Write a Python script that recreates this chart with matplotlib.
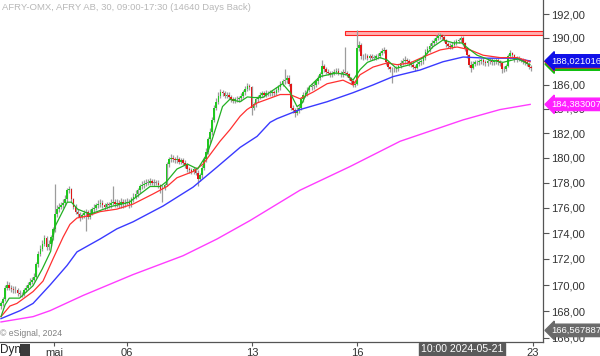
import matplotlib
matplotlib.use("Agg")
import matplotlib.pyplot as plt
import matplotlib.transforms as mtransforms
from matplotlib.patches import Rectangle
from matplotlib.ticker import FixedLocator, FixedFormatter, NullLocator
import numpy as np

plt.rcParams['font.family'] = ['Liberation Sans', 'DejaVu Sans']

# 30 minute bars, AFRY, late April -> 22 May 2024
first_open = 168.4
closes = [
    168.6, 168.9, 169.8, 170.0, 169.8, 169.7, 169.6, 169.6, 169.4, 169.3,
    169.35, 169.6, 169.8, 170.0, 170.25, 170.4, 170.6, 171.6, 172.4, 172.8,
    173.2, 173.6, 172.9, 173.2, 173.7, 174.3, 175.5, 175.9, 176.1, 176.2,
    176.4, 176.7, 177.4, 177.5, 176.7, 176.1, 175.7, 175.5, 175.3, 175.4,
    175.6, 175.65, 175.3, 175.6, 175.9, 176.0, 176.2, 176.3, 176.4, 176.2,
    176.1, 176.3, 176.2, 176.4, 176.5, 176.3, 176.4, 176.2, 176.5, 176.3,
    176.4, 176.5, 176.3, 176.7, 176.9, 177.1, 177.4, 177.7, 177.8, 177.9,
    178.0, 178.0, 178.1, 178.0, 178.0, 178.0, 177.8, 177.5, 177.6, 177.8,
    179.5, 179.9, 180.0, 179.9, 179.8, 179.9, 179.7, 179.8, 179.6, 179.4,
    179.1, 179.0, 178.9, 179.1, 178.8, 178.3, 178.6, 179.2, 179.9, 180.5,
    181.5, 182.1, 183.1, 184.1, 184.6, 185.1, 185.4, 185.3, 185.1, 185.2,
    185.0, 184.85, 184.7, 184.8, 184.85, 184.9, 185.1, 185.4, 185.7, 185.9,
    185.8, 184.1, 184.4, 184.8, 185.0, 185.2, 185.3, 185.2, 185.35, 185.3,
    185.35, 185.4, 185.35, 185.6, 185.8, 186.1, 186.3, 186.4, 186.6, 186.1,
    184.1, 183.95, 183.7, 183.95, 184.1, 184.8, 185.2, 185.35, 185.6, 185.8,
    185.9, 186.0, 186.3, 186.6, 186.9, 187.6, 187.3, 187.1, 187.0, 186.9,
    187.0, 187.1, 187.2, 187.0, 186.9, 187.1, 187.0, 186.9, 186.6, 186.3,
    186.0, 186.1, 189.1, 189.4, 188.4, 188.4, 188.45, 188.3, 188.4, 188.3,
    188.3, 188.4, 188.45, 188.7, 188.9, 188.95, 187.9, 187.5, 187.3, 187.3,
    187.3, 187.4, 187.6, 187.85, 188.0, 188.1, 188.0, 187.85, 187.7, 187.5,
    187.45, 187.8, 187.9, 188.0, 188.3, 188.8, 189.0, 189.3, 189.55, 189.7,
    190.0, 190.1, 190.2, 190.05, 189.8, 189.45, 189.3, 189.2, 189.4, 189.55,
    189.7, 189.8, 190.0, 189.5, 189.1, 188.5, 187.7, 187.45, 187.8, 187.9,
    187.9, 188.0, 188.1, 187.9, 187.85, 188.0, 188.1, 187.9, 188.0, 188.1,
    187.9, 187.85, 187.3, 187.35, 187.6, 188.4, 188.7, 188.5, 188.1, 188.2,
    188.2, 188.1, 188.0, 187.9, 187.8, 187.5, 187.45]
highs = [
    168.8, 169.1, 170.0, 170.3, 170.2, 170.0, 169.9, 169.9, 169.8, 169.6,
    169.5, 169.8, 170.0, 170.2, 170.5, 170.6, 170.9, 171.8, 172.6, 173.1,
    173.5, 173.9, 173.8, 173.5, 173.9, 174.5, 177.9, 176.2, 176.4, 176.5,
    176.7, 177.0, 177.6, 177.7, 177.6, 176.8, 176.3, 175.9, 175.7, 175.6,
    175.8, 175.9, 175.8, 175.9, 176.1, 176.3, 176.4, 176.6, 176.7, 176.6,
    176.4, 176.5, 176.5, 176.7, 177.7, 176.7, 176.7, 176.6, 176.8, 176.7,
    176.7, 176.8, 176.7, 176.9, 177.2, 177.4, 177.6, 177.9, 178.1, 178.2,
    178.3, 178.3, 178.4, 178.3, 178.3, 178.2, 178.2, 177.9, 177.8, 178.0,
    179.7, 180.1, 180.3, 180.2, 180.1, 180.2, 180.1, 180.0, 180.0, 179.8,
    179.6, 179.3, 179.2, 179.3, 179.3, 179.0, 178.8, 179.4, 180.1, 180.8,
    181.7, 182.4, 183.3, 184.3, 184.9, 185.4, 185.7, 185.6, 185.5, 185.4,
    185.4, 185.2, 185.0, 185.0, 185.1, 185.1, 185.3, 185.6, 185.9, 186.2,
    186.1, 185.9, 184.6, 185.0, 185.2, 185.4, 185.5, 185.5, 185.6, 185.5,
    185.6, 185.6, 185.6, 185.8, 186.0, 186.3, 186.5, 187.3, 186.8, 186.8,
    186.2, 184.3, 184.1, 184.2, 184.3, 185.0, 185.4, 185.6, 185.8, 186.0,
    186.2, 186.3, 186.5, 186.8, 187.1, 188.1, 187.8, 187.5, 187.3, 187.2,
    187.2, 187.3, 187.4, 187.4, 187.2, 187.3, 189.2, 187.2, 187.0, 186.7,
    186.4, 186.3, 190.65, 189.7, 189.5, 188.6, 188.7, 188.6, 188.6, 188.6,
    188.5, 188.6, 188.7, 188.9, 189.1, 189.2, 189.0, 188.0, 187.6, 187.5,
    187.5, 187.6, 187.8, 188.1, 188.3, 188.4, 188.3, 188.2, 188.0, 187.9,
    187.7, 188.0, 188.1, 188.2, 188.5, 189.0, 189.3, 189.5, 189.8, 190.0,
    190.2, 190.4, 190.4, 190.3, 190.2, 189.9, 189.6, 189.5, 189.6, 189.8,
    189.9, 190.0, 190.15, 190.1, 189.6, 189.2, 188.6, 188.0, 188.0, 188.1,
    188.1, 188.2, 188.3, 188.3, 188.1, 188.2, 188.3, 188.3, 188.2, 188.3,
    188.3, 188.1, 187.9, 187.6, 187.8, 188.6, 188.95, 188.8, 188.6, 188.4,
    188.4, 188.3, 188.3, 188.2, 188.1, 187.9, 187.7]
lows = [
    168.2, 168.4, 168.8, 169.6, 169.6, 169.5, 169.4, 169.4, 169.2, 169.1,
    169.1, 169.2, 169.5, 169.7, 169.9, 170.1, 170.3, 170.5, 171.4, 172.2,
    172.6, 173.0, 172.7, 172.7, 173.0, 173.5, 174.1, 175.3, 175.7, 175.9,
    176.0, 176.2, 176.5, 177.2, 176.5, 175.9, 175.5, 175.3, 175.0, 175.1,
    175.2, 174.2, 175.1, 175.1, 175.4, 175.7, 175.8, 176.0, 176.1, 176.0,
    175.8, 175.9, 176.0, 176.0, 176.2, 176.1, 176.1, 176.0, 176.0, 176.0,
    176.1, 176.2, 176.0, 176.1, 176.5, 176.7, 176.9, 177.2, 177.5, 177.6,
    177.7, 177.8, 177.8, 177.8, 177.7, 177.8, 177.6, 177.2, 176.5, 177.4,
    177.7, 179.3, 179.7, 179.7, 179.6, 179.6, 179.5, 179.5, 179.4, 179.2,
    178.9, 178.8, 178.7, 178.7, 178.6, 177.7, 178.1, 178.4, 179.0, 179.7,
    180.3, 181.2, 181.9, 182.9, 183.9, 184.4, 184.9, 185.1, 184.9, 184.9,
    184.8, 184.6, 184.5, 184.5, 184.6, 184.6, 184.7, 184.9, 185.2, 185.5,
    185.6, 183.5, 183.9, 184.2, 184.6, 184.8, 185.0, 185.0, 185.0, 185.1,
    185.1, 185.1, 185.1, 185.2, 185.4, 185.6, 185.9, 186.1, 186.2, 185.9,
    183.9, 183.7, 183.3, 183.5, 183.7, 183.9, 184.6, 185.0, 185.1, 185.4,
    185.6, 185.7, 185.8, 186.1, 186.4, 186.7, 187.1, 186.9, 186.8, 186.7,
    186.7, 186.8, 186.9, 186.8, 186.7, 186.7, 186.8, 186.7, 186.4, 186.1,
    185.8, 185.8, 186.0, 188.9, 188.2, 188.1, 188.2, 188.1, 188.1, 188.1,
    188.1, 188.1, 188.2, 188.3, 188.5, 188.7, 187.7, 187.3, 187.1, 186.2,
    187.1, 187.1, 187.2, 187.4, 187.7, 187.8, 187.8, 187.6, 187.5, 187.3,
    187.2, 187.3, 187.6, 187.7, 187.8, 188.1, 188.6, 188.8, 189.1, 189.4,
    189.5, 189.8, 189.9, 189.8, 189.6, 189.2, 189.1, 189.0, 189.0, 189.2,
    189.4, 189.5, 189.6, 189.3, 188.9, 188.3, 187.5, 187.1, 187.3, 187.6,
    187.7, 187.7, 187.8, 187.7, 187.6, 187.6, 187.8, 187.7, 187.7, 187.8,
    187.7, 187.6, 187.0, 187.1, 187.2, 187.5, 188.2, 188.3, 187.9, 187.9,
    188.0, 187.9, 187.8, 187.7, 187.6, 187.3, 187.2]

# moving averages (bar position, value)
fast_x = [0, 2, 4, 9, 15.5, 20, 24, 26, 32, 34, 37, 43, 53, 62, 72, 77, 80, 85,
          90, 95, 99.5, 102, 105, 107, 110.5, 115.5, 119, 122, 126.5, 130, 136,
          139.5, 143, 145.5, 149, 154, 162, 167, 170, 173.5, 177, 183, 186.5,
          191, 197.5, 204, 208.5, 213.5, 218.5, 222.5, 225.5, 230, 236, 242.5,
          249.5, 255.5]
fast_y = [167.6, 168.5, 169.0, 169.0, 169.95, 171.25, 172.6, 174.5, 176.45,
          176.45, 175.9, 175.5, 176.1, 176.45, 177.7, 177.7, 178.1, 179.1, 179.5,
          179.1, 180.3, 181.5, 183.1, 184.2, 184.8, 184.6, 185.0, 184.95, 184.95,
          185.4, 186.1, 185.4, 184.2, 184.5, 185.85, 186.7, 187.0, 186.85, 186.4,
          187.3, 187.9, 188.3, 188.1, 187.4, 187.7, 188.3, 189.2, 189.8, 189.55,
          189.55, 189.1, 188.5, 188.1, 187.9, 188.2, 187.7]
mid_x = [0, 4.3, 7.7, 15.5, 20.3, 25.1, 30, 33.3, 36.7, 41.5, 47.8, 56, 63.8,
         73.4, 80.2, 85, 92.8, 97.6, 105.8, 110.6, 115.5, 118.8, 123.7, 128.5,
         134.8, 139.6, 144.4, 150.7, 157.5, 165.2, 170, 173.4, 179.7, 186.5,
         191.3, 197.6, 203.9, 212.1, 220.3, 226.6, 232.9, 241.1, 249.3, 255.6]
mid_y = [167.6, 168.4, 168.6, 169.5, 170.3, 172.0, 173.7, 174.7, 175.2, 175.35,
         175.7, 175.9, 176.3, 177.1, 177.7, 178.4, 178.9, 179.5, 181.35, 182.3,
         183.4, 183.95, 184.5, 184.8, 185.2, 185.2, 184.85, 185.4, 186.1, 186.4,
         186.0, 186.85, 187.5, 187.85, 187.7, 187.85, 188.35, 188.95, 189.2,
         188.95, 188.5, 188.3, 188.3, 187.95]
slow_x = [0, 9.2, 15.5, 23.7, 31.9, 36.7, 47.8, 56, 63.8, 78.3, 92.8, 104.3,
          115.5, 123.7, 130, 133.3, 144.4, 157.5, 170, 179.7, 189.4, 202.4,
          213.5, 223.2, 234.8, 247.3, 255.6]
slow_y = [167.45, 168.05, 168.6, 170.0, 171.5, 172.55, 173.55, 174.35, 174.9,
          176.15, 177.65, 179.25, 180.85, 181.75, 182.9, 183.2, 183.95, 184.6,
          185.35, 186.0, 186.7, 187.25, 187.95, 188.35, 188.25, 188.25, 188.02]
long_x = [0, 15.5, 23.7, 39.6, 63.8, 87.9, 104.3, 120.3, 144.4, 168.6, 192.8,
          223.2, 241, 255.6]
long_y = [167.2, 167.6, 168.05, 169.2, 170.8, 172.25, 173.55, 175.0, 177.4,
          179.3, 181.35, 183.1, 183.95, 184.38]

# resistance zone
zone_start = 166.2
zone_low, zone_high = 190.22, 190.56

y_ticks = list(range(166, 193, 2))
x_ticks = [25.5, 60.9, 121.3, 172.0, 257.0]
x_labels = ["mai", "06", "13", "16", "23"]
cursor_bar = 222.7
cursor_text = "10:00 2024-05-21"

last_green, last_red, last_blue = 187.75, 187.95, 188.021016
last_magenta = 184.383007
last_grey = 166.567887

title = "AFRY-OMX, AFRY AB, 30, 09:00-17:30 (14640 Days Back)"

fig = plt.figure(figsize=(6, 3.56), dpi=100)
ax = fig.add_axes([0, 14 / 356, 543 / 600, 342 / 356])

c = np.array(closes)
o = np.array([first_open] + closes[:-1])
h = np.array(highs)
l = np.array(lows)
idx = np.arange(len(c))

ax.vlines(idx, l, h, color='#9c9c9c', lw=0.9, zorder=2)
bot = np.minimum(o, c)
hgt = np.maximum(np.abs(c - o), 0.05)
up = c > o
dn = c < o
flat = ~(up | dn)
ax.bar(idx[up], hgt[up], bottom=bot[up], width=0.8, color='#1fc81f', lw=0, zorder=3)
ax.bar(idx[dn], hgt[dn], bottom=bot[dn], width=0.8, color='#e01818', lw=0, zorder=3)
ax.bar(idx[flat], hgt[flat], bottom=bot[flat], width=0.8, color='#8c8c8c', lw=0, zorder=3)

ax.plot(long_x, long_y, color='#ff3cff', lw=1.0, zorder=4)
ax.plot(slow_x, slow_y, color='#3a3aff', lw=1.0, zorder=4)
ax.plot(mid_x, mid_y, color='#ff3030', lw=0.9, zorder=5)
ax.plot(fast_x, fast_y, color='#22b022', lw=0.9, zorder=6)

ax.add_patch(Rectangle((zone_start, zone_low), 300, zone_high - zone_low,
                       facecolor='#ffb0b0', edgecolor='#ff2020', lw=0.8, zorder=1))

ax.set_yscale('log')
ax.set_ylim(165.7, 193.24)
ax.set_xlim(-0.48, 261.8)

ax.yaxis.tick_right()
ax.yaxis.set_major_locator(FixedLocator(y_ticks))
ax.yaxis.set_major_formatter(FixedFormatter([f"{v},00" for v in y_ticks]))
ax.yaxis.set_minor_locator(NullLocator())
ax.xaxis.set_major_locator(FixedLocator(x_ticks))
ax.xaxis.set_major_formatter(FixedFormatter(x_labels))
ax.xaxis.set_minor_locator(NullLocator())
ax.tick_params(axis='y', direction='out', length=4, width=0.8, color='#555555',
               labelsize=8, labelcolor='#333333', pad=1.5)
ax.tick_params(axis='x', direction='out', length=3, width=0.8, color='#555555',
               labelsize=8, labelcolor='#333333', pad=1.5)
for side in ('left', 'top'):
    ax.spines[side].set_visible(False)
for side in ('right', 'bottom'):
    ax.spines[side].set_color('#555555')
    ax.spines[side].set_linewidth(0.9)

ax.text(0.003, 0.992, title, transform=ax.transAxes, va='top', ha='left',
        fontsize=6.8, color='#b8b8b8')
ax.text(0.0, 0.012, "\u00a9 eSignal, 2024", transform=ax.transAxes, va='bottom',
        ha='left', fontsize=6.2, color='#808080')

trans = mtransforms.blended_transform_factory(ax.transAxes, ax.transData)
for val, col in [(last_green, '#10c010'), (last_red, '#ff2020'),
                 (last_blue, '#1010e8'), (last_magenta, '#ff20ff'),
                 (last_grey, '#6a6a6a')]:
    ax.text(1.016, val, f"{val:.6f}".replace('.', ','), transform=trans,
            va='center', ha='left', fontsize=6.8, color='white', clip_on=False,
            zorder=10, bbox=dict(boxstyle='larrow,pad=0.18', fc=col, ec=col))

ax.text(cursor_bar, -0.007, cursor_text, transform=mtransforms.blended_transform_factory(
            ax.transData, ax.transAxes), va='top', ha='center', fontsize=7.5,
        color='white', clip_on=False, zorder=10,
        bbox=dict(boxstyle='square,pad=0.15', fc='#5a5a5a', ec='#5a5a5a'))

fig.text(0.0, 0.0, "Dyn", fontsize=8.5, color='#222222', va='bottom', ha='left')
fig.patches.append(Rectangle((20 / 600, 0), 10 / 600, 12 / 356,
                             transform=fig.transFigure, fc='#3a3a3a', ec='none'))

fig.savefig("out.png", dpi=100)
